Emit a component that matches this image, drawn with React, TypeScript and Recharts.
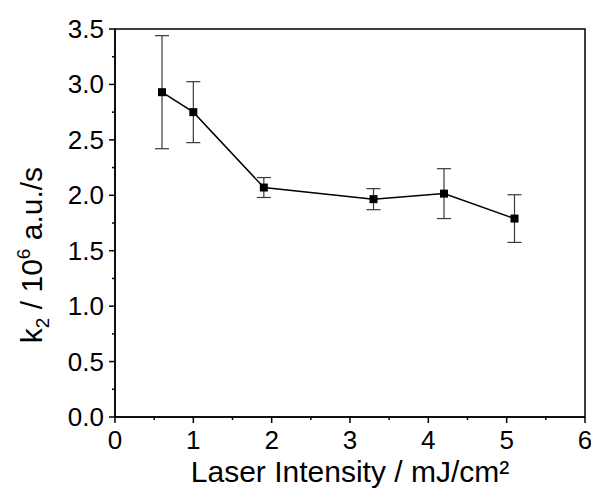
import { LineChart, Line, XAxis, YAxis, ErrorBar, Label, ReferenceArea } from "recharts";

const intensity = [0.6, 1.0, 1.9, 3.3, 4.2, 5.1];
const k2 = [2.93, 2.75, 2.07, 1.965, 2.015, 1.79];
const k2Err = [0.51, 0.275, 0.09, 0.095, 0.225, 0.215];

const xTicks = [0, 0.5, 1, 1.5, 2, 2.5, 3, 3.5, 4, 4.5, 5, 5.5, 6];
const yTicks = [0, 0.25, 0.5, 0.75, 1, 1.25, 1.5, 1.75, 2, 2.25, 2.5, 2.75, 3, 3.25, 3.5];

const data = intensity.map((x, i) => ({ x, k2: k2[i], err: k2Err[i] }));

const FONT = "'Liberation Sans', Arial, sans-serif";

const XTick = (props: any) => {
  const { x, y, payload } = props;
  const major = Number.isInteger(payload.value);
  return (
    <g>
      <line x1={x} x2={x} y1={y} y2={y + (major ? 6 : 3)} stroke="#000" strokeWidth={1.5} />
      {major && (
        <text x={x} y={y + 32} textAnchor="middle" fontSize={26} fontFamily={FONT} fill="#000">
          {payload.value}
        </text>
      )}
    </g>
  );
};

const YTick = (props: any) => {
  const { x, y, payload } = props;
  const v = payload.value as number;
  const major = Math.abs(v * 2 - Math.round(v * 2)) < 1e-6;
  return (
    <g>
      <line x1={x} x2={x - (major ? 6 : 3)} y1={y} y2={y} stroke="#000" strokeWidth={1.5} />
      {major && (
        <text x={x - 11} y={y + 9} textAnchor="end" fontSize={26} fontFamily={FONT} fill="#000">
          {v.toFixed(1)}
        </text>
      )}
    </g>
  );
};

const SquareDot = (props: any) => {
  const { cx, cy } = props;
  return <rect x={cx - 4} y={cy - 4} width={8} height={8} fill="#000" />;
};

const YTitle = () => (
  <text
    x={0}
    y={0}
    transform="translate(42 255) rotate(-90)"
    textAnchor="middle"
    fontSize={30}
    fontFamily={FONT}
    fill="#000"
  >
    <tspan>k</tspan>
    <tspan fontSize={19} dy={7}>2</tspan>
    <tspan dy={-7}> / 10</tspan>
    <tspan fontSize={19} dy={-12}>6</tspan>
    <tspan dy={12}> a.u./s</tspan>
  </text>
);

export default function App() {
  return (
    <div style={{ position: "absolute", left: 0, top: 0, width: 591, height: 488, background: "#fff" }}>
      <LineChart width={591} height={488} data={data} margin={{ top: 29, right: 6, bottom: 0, left: 0 }}>
        <XAxis
          dataKey="x"
          type="number"
          domain={[0, 6]}
          ticks={xTicks}
          interval={0}
          tick={<XTick />}
          tickLine={false}
          tickSize={0}
          tickMargin={0}
          height={71}
          axisLine={{ stroke: "#000", strokeWidth: 1.5 }}
        >
          <Label
            content={() => (
              <text x={350} y={482} textAnchor="middle" fontSize={30} fontFamily={FONT} fill="#000">
                Laser Intensity / mJ/cm²
              </text>
            )}
          />
        </XAxis>
        <YAxis
          type="number"
          domain={[0, 3.5]}
          ticks={yTicks}
          interval={0}
          tick={<YTick />}
          tickLine={false}
          tickSize={0}
          tickMargin={0}
          width={115}
          axisLine={{ stroke: "#000", strokeWidth: 1.5 }}
        >
          <Label content={() => <YTitle />} />
        </YAxis>
        <ReferenceArea x1={0} x2={6} y1={0} y2={3.5} fill="none" stroke="#000" strokeWidth={1.5} />
        <Line
          type="linear"
          dataKey="k2"
          stroke="#000"
          strokeWidth={1.5}
          dot={<SquareDot />}
          activeDot={false}
          isAnimationActive={false}
        >
          <ErrorBar dataKey="err" width={7} stroke="#3a3a3a" strokeWidth={1.2} direction="y" />
        </Line>
      </LineChart>
    </div>
  );
}
